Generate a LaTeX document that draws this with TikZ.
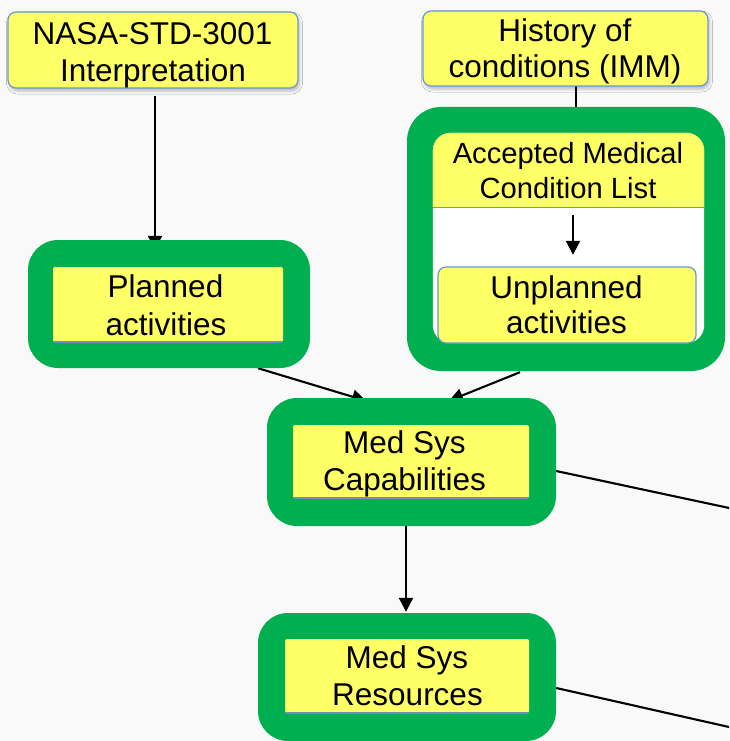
\documentclass[tikz,border=0pt]{standalone}
\usepackage{fontspec}
\setmainfont{Liberation Sans}
\usetikzlibrary{arrows.meta,shadows.blur}

\definecolor{boxyellow}{RGB}{255,255,102}
\definecolor{boxgreen}{RGB}{0,176,80}
\definecolor{boxblue}{RGB}{101,151,212}
\definecolor{edgegray}{RGB}{120,140,175}
\definecolor{paper}{RGB}{249,249,249}

\tikzset{
  ybox/.style={rectangle, rounded corners=8pt, fill=boxyellow, draw=boxblue,
    line width=1.2pt, inner sep=0pt},
  shadowed/.style={blur shadow={shadow xshift=1.5pt, shadow yshift=-3pt,
    shadow blur radius=3pt, shadow opacity=25}},
  gframe/.style={rectangle, rounded corners=30pt, fill=boxgreen, inner sep=0pt},
  ginner/.style={rectangle, rounded corners=2pt, fill=boxyellow, inner sep=0pt},
  area/.style={rectangle, inner sep=0pt},
  lbl/.style={anchor=base, inner sep=0pt, font=\fontsize{31.5}{37}\selectfont},
  lblsmall/.style={anchor=base, inner sep=0pt, font=\fontsize{29.2}{35}\selectfont},
  link/.style={line width=2.1pt, draw=black},
  arr/.style={link, -{Triangle[width=14pt,length=14pt]}},
  baseline edge/.style={draw=edgegray, line width=1.5pt},
}

\begin{document}
\begin{tikzpicture}[x=1pt,y=-1pt]
  % page
  \fill[paper] (0,0) rectangle (729,741);
  \useasboundingbox (0,0) rectangle (729,741);
  \clip (0,0) rectangle (729,741);

  % ---------- geometry of the boxes (named, drawn later) ----------
  \path
    node[area, minimum width=290pt, minimum height=76pt] (nasa) at (153,50) {}
    node[area, minimum width=285pt, minimum height=75pt] (history) at (565.5,48.5) {}
    node[area, minimum width=282pt, minimum height=128pt] (plannedG) at (169,304) {}
    node[area, minimum width=318pt, minimum height=264pt] (rightG) at (566,239) {}
    node[area, minimum width=271pt, minimum height=210pt] (rightW) at (568.5,238) {}
    node[area, minimum width=271pt, minimum height=74pt] (acc) at (568.5,170) {}
    node[area, minimum width=258pt, minimum height=76pt] (unpl) at (567,305) {}
    node[area, minimum width=289pt, minimum height=128pt] (capG) at (411.5,462) {}
    node[area, minimum width=298pt, minimum height=128pt] (resG) at (407,677) {};
  \coordinate (capOut) at (760,514.6);
  \coordinate (resOut) at (760,734);

  % ---------- connectors (beneath the frames) ----------
  \draw[arr] ([xshift=2pt,yshift=-8pt]nasa.south) -- ([xshift=-14pt,yshift=-10pt]plannedG.north);
  \draw[link] ([xshift=10.5pt]history.south) -- ([xshift=10pt]rightG.north);
  \draw[arr] ([xshift=89pt]plannedG.south) -- ([xshift=-45.5pt,yshift=-3pt]capG.north);
  \draw[arr] ([xshift=-46pt,yshift=-1pt]rightG.south) -- ([xshift=37.5pt,yshift=-3pt]capG.north);
  \draw[link] ([yshift=-9pt]capG.east) -- (capOut);
  \draw[link] ([yshift=-11pt]resG.east) -- (resOut);
  \draw[arr] ([xshift=-5.5pt]capG.south) -- ([xshift=-1pt,yshift=1pt]resG.north);

  % ---------- top source boxes ----------
  \node[ybox, shadowed, minimum width=290pt, minimum height=76pt] at (nasa) {};
  \node[lbl] (nasa1) at (152.5,45) {NASA-STD-3001};
  \node[lbl] (nasa2) at (153,82) {Interpretation};

  \node[ybox, shadowed, minimum width=285pt, minimum height=75pt] at (history) {};
  \node[lbl] (hist1) at (565,42) {History of};
  \node[lbl] (hist2) at (565,78) {conditions (IMM)};

  % ---------- planned activities ----------
  \node[gframe, minimum width=282pt, minimum height=128pt] at (plannedG) {};
  \node[ginner, minimum width=230pt, minimum height=75pt] (plannedY) at (168,304.5) {};
  \draw[baseline edge] ([xshift=1pt]plannedY.south west) -- ([xshift=-1pt]plannedY.south east);
  \node[lbl] (plan1) at (165.5,297) {Planned};
  \node[lbl] (plan2) at (166,335) {activities};

  % ---------- accepted conditions / unplanned activities ----------
  \node[gframe, rounded corners=34pt, minimum width=318pt, minimum height=264pt] at (rightG) {};
  \fill[white, rounded corners=18pt] (rightW.south west) rectangle (rightW.north east);
  \fill[boxyellow] (acc.south west) [rounded corners=18pt] -- (acc.north west)
    -- (acc.north east) [sharp corners] -- (acc.south east) -- cycle;
  \draw[boxblue, line width=1.2pt] (acc.south west) -- (acc.south east);
  \node[lblsmall] (acc1) at (568,163) {Accepted Medical};
  \node[lblsmall] (acc2) at (568,198) {Condition List};
  \draw[arr] ([xshift=4.5pt,yshift=-8pt]acc.south) -- ([xshift=6pt,yshift=12pt]unpl.north);
  \node[ybox, minimum width=258pt, minimum height=76pt] at (unpl) {};
  \node[lbl] (unpl1) at (566.5,298) {Unplanned};
  \node[lbl] (unpl2) at (566.5,333) {activities};

  % ---------- med sys capabilities ----------
  \node[gframe, minimum width=289pt, minimum height=128pt] at (capG) {};
  \node[ginner, minimum width=236pt, minimum height=73pt] (capY) at (411,461.5) {};
  \draw[baseline edge] ([xshift=1pt]capY.south west) -- ([xshift=-1pt]capY.south east);
  \node[lbl] (cap1) at (404.5,453) {Med Sys};
  \node[lbl] (cap2) at (404.5,490) {Capabilities};

  % ---------- med sys resources ----------
  \node[gframe, minimum width=298pt, minimum height=128pt] at (resG) {};
  \node[ginner, minimum width=244pt, minimum height=74pt] (resY) at (407,676) {};
  \draw[baseline edge] ([xshift=1pt]resY.south west) -- ([xshift=-1pt]resY.south east);
  \node[lbl] (res1) at (407,668) {Med Sys};
  \node[lbl] (res2) at (407.5,705) {Resources};
\end{tikzpicture}
\end{document}
